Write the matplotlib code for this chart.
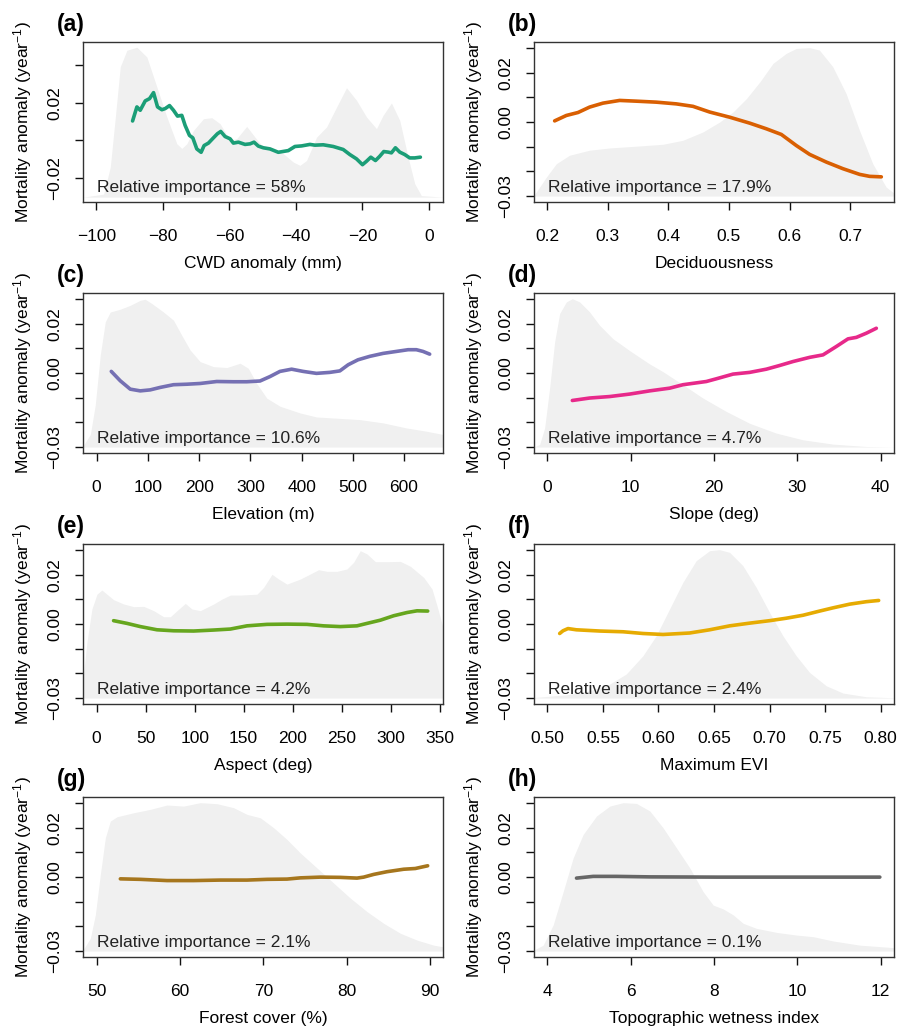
import matplotlib.pyplot as plt

plt.rcParams['font.family'] = ['Liberation Sans', 'DejaVu Sans']
plt.rcParams['mathtext.fontset'] = 'custom'
plt.rcParams['mathtext.rm'] = 'Liberation Sans'
plt.rcParams['mathtext.it'] = 'Liberation Sans:italic'
plt.rcParams['axes.unicode_minus'] = True

# ---- data ----
# (a) CWD anomaly
a_dens_x = [-104.0, -97.8, -95.8, -94.3, -92.8, -90.8, -87.8, -84.8, -81.8, -78.8, -75.8, -74.3,
            -72.8, -70.8, -67.8, -65.3, -62.8, -59.8, -57.8, -54.8, -52.3, -49.8, -46.8, -43.8,
            -40.8, -38.8, -36.8, -33.8, -30.8, -27.8, -24.8, -21.8, -18.8, -15.8, -13.8, -11.3,
            -8.8, -6.3, -4.3, -2.3, 4.2]
a_dens_y = [0, 0.02, 0.2, 0.53, 0.87, 0.98, 1.0, 0.935, 0.735, 0.535, 0.356, 0.325, 0.356, 0.445,
            0.523, 0.53, 0.49, 0.38, 0.39, 0.472, 0.40, 0.334, 0.312, 0.29, 0.234, 0.212, 0.245,
            0.40, 0.468, 0.60, 0.73, 0.646, 0.535, 0.457, 0.546, 0.628, 0.512, 0.267, 0.09, 0.01, 0]
a_x = [-89.1, -87.8, -86.8, -85.3, -84.0, -82.8, -81.6, -80.3, -79.3, -78.0, -76.8, -75.6, -74.3,
       -73.3, -72.0, -71.0, -69.8, -68.5, -67.6, -66.3, -64.8, -63.6, -62.6, -61.3, -59.8, -58.8,
       -57.3, -55.3, -53.8, -52.6, -51.3, -49.8, -47.8, -45.3, -42.3, -40.3, -38.3, -35.8, -34.3,
       -31.8, -28.8, -25.8, -23.8, -21.8, -20.0, -18.8, -17.5, -16.1, -14.8, -13.6, -12.3, -11.3,
       -10.1, -8.8, -7.3, -5.8, -4.3, -2.6]
a_y = [0.0104, 0.0179, 0.0161, 0.0211, 0.0223, 0.0255, 0.0179, 0.0164, 0.0170, 0.0186, 0.0161,
       0.0130, 0.0134, 0.0080, 0.0027, 0.0014, -0.0045, -0.0063, -0.0027, -0.0014, 0.0014, 0.0036,
       0.0048, 0.0021, 0.0009, -0.0014, -0.0009, -0.0021, -0.0018, -0.0009, -0.0030, -0.0039,
       -0.0045, -0.0063, -0.0054, -0.0032, -0.0029, -0.0021, -0.0025, -0.0023, -0.0032, -0.0048,
       -0.0075, -0.0098, -0.0129, -0.0111, -0.0089, -0.0107, -0.0084, -0.0059, -0.0062, -0.0066,
       -0.0039, -0.0062, -0.0075, -0.0093, -0.0093, -0.0089]

# (b) Deciduousness
b_dens_x = [0.1786, 0.199, 0.2154, 0.237, 0.270, 0.303, 0.347, 0.391, 0.424, 0.457, 0.485, 0.507,
            0.529, 0.551, 0.5725, 0.5945, 0.611, 0.633, 0.649, 0.671, 0.693, 0.715, 0.737, 0.759, 0.772]
b_dens_y = [0.005, 0.128, 0.218, 0.275, 0.309, 0.324, 0.336, 0.349, 0.376, 0.432, 0.5, 0.568,
            0.658, 0.770, 0.894, 0.962, 0.995, 1.0, 0.984, 0.872, 0.691, 0.444, 0.218, 0.061, 0.02]
b_x = [0.2126, 0.2319, 0.2511, 0.2703, 0.2923, 0.3198, 0.3473, 0.3802, 0.4132, 0.4407, 0.4681,
       0.5011, 0.534, 0.5615, 0.5863, 0.611, 0.633, 0.6604, 0.6879, 0.7154, 0.7319, 0.7511]
b_y = [0.0005, 0.0027, 0.0039, 0.0061, 0.0077, 0.0088, 0.0085, 0.0081, 0.0074, 0.0064, 0.0041,
       0.0020, -0.0004, -0.0027, -0.0050, -0.0095, -0.0131, -0.0162, -0.0189, -0.0212, -0.0220,
       -0.0222]

# (c) Elevation
c_dens_x = [-26.6, -12.3, -2.6, 7.1, 16.9, 26.6, 46.1, 65.6, 85.1, 94.8, 107.8, 130.5, 150, 166,
            182.5, 202, 228, 254, 280, 296, 312, 332, 358, 397, 429, 462, 514, 559, 604.5, 643.5, 676]
c_dens_y = [0.007, 0.085, 0.286, 0.62, 0.844, 0.91, 0.929, 0.955, 0.989, 0.996, 0.967, 0.91,
            0.855, 0.754, 0.654, 0.576, 0.542, 0.536, 0.565, 0.531, 0.431, 0.33, 0.275, 0.23,
            0.203, 0.196, 0.185, 0.163, 0.129, 0.107, 0.085]
c_x = [28.6, 46.1, 65.6, 85.1, 104.5, 124, 150, 176, 202, 234.4, 266.9, 292.9, 318.8, 338.3,
       357.8, 380.5, 403, 429, 455, 474.7, 491, 510, 533, 559, 585, 608, 624, 637, 650]
c_y = [0.0007, -0.0031, -0.0065, -0.0072, -0.0068, -0.0058, -0.0047, -0.0045, -0.0042, -0.0034,
       -0.0035, -0.0035, -0.0032, -0.0014, 0.0007, 0.0016, 0.0007, -0.0001, 0.0003, 0.0009,
       0.0034, 0.0054, 0.0068, 0.0080, 0.0088, 0.0095, 0.0095, 0.0088, 0.0077]

# (d) Slope
d_dens_x = [-1.6, -0.92, -0.32, 0.28, 0.88, 1.48, 2.28, 3.0, 3.88, 5.08, 6.28, 7.88, 9.88, 12.28,
            13.88, 16.28, 18.68, 21.48, 24.28, 27.48, 30.68, 34.28, 38.28, 41.6]
d_dens_y = [0, 0.018, 0.13, 0.40, 0.71, 0.90, 0.978, 1.0, 0.978, 0.91, 0.82, 0.73, 0.65, 0.56,
            0.508, 0.42, 0.33, 0.24, 0.16, 0.094, 0.049, 0.02, 0.004, 0]
d_x = [3.0, 5.08, 7.48, 9.88, 12.28, 14.68, 16.28, 19.08, 20.28, 22.28, 24.28, 26.28, 27.88,
       29.48, 31.48, 33.08, 34.68, 36.08, 37.08, 38.28, 39.48]
d_y = [-0.0111, -0.0101, -0.0095, -0.0085, -0.0072, -0.0061, -0.0047, -0.0034, -0.0023, -0.0004,
       0.0003, 0.0016, 0.0031, 0.0047, 0.0064, 0.0074, 0.0108, 0.0139, 0.0145, 0.0162, 0.0182]

# (e) Aspect
e_dens_x = [-13.9, -9.9, -4.8, 0.34, 5.4, 10.5, 17.3, 27.6, 37.8, 48.0, 58.2, 68.4, 75.2, 82.0,
            90.5, 97.3, 105.8, 119.4, 127.9, 136.4, 146.6, 163.6, 170.4, 178.9, 185.7, 194.2,
            207.8, 218.0, 226.5, 235.0, 245.2, 255.4, 262.2, 269.0, 275.9, 284.4, 296.3, 309.9,
            320.1, 333.7, 342.2, 347.3, 353.4]
e_dens_y = [0.128, 0.375, 0.60, 0.70, 0.728, 0.70, 0.663, 0.634, 0.616, 0.618, 0.589, 0.548,
            0.548, 0.589, 0.638, 0.60, 0.589, 0.634, 0.667, 0.694, 0.694, 0.70, 0.746, 0.834,
            0.802, 0.768, 0.802, 0.836, 0.865, 0.854, 0.854, 0.87, 0.915, 0.993, 0.971, 0.919,
            0.919, 0.921, 0.888, 0.813, 0.735, 0.622, 0.476]
e_x = [17.3, 31.0, 44.6, 61.6, 78.6, 99.0, 119.4, 136.4, 153.4, 173.8, 194.2, 214.6, 231.6,
       248.6, 265.6, 275.9, 289.5, 303.1, 316.7, 326.9, 337.8]
e_y = [0.0014, 0.0003, -0.0010, -0.0023, -0.0027, -0.0028, -0.0024, -0.0020, -0.0007, -0.0001,
       0.0, -0.0001, -0.0007, -0.0010, -0.0007, 0.0003, 0.0016, 0.0034, 0.0047, 0.0054, 0.0053]

# (f) Maximum EVI
f_dens_x = [0.488, 0.517, 0.538, 0.556, 0.571, 0.586, 0.598, 0.610, 0.622, 0.634, 0.646, 0.655,
            0.664, 0.676, 0.688, 0.700, 0.712, 0.724, 0.736, 0.751, 0.766, 0.787, 0.812]
f_dens_y = [0.004, 0.022, 0.049, 0.094, 0.162, 0.285, 0.42, 0.60, 0.78, 0.926, 0.993, 1.0, 0.982,
            0.892, 0.746, 0.577, 0.42, 0.285, 0.173, 0.083, 0.034, 0.009, 0.002]
f_x = [0.5111, 0.5141, 0.5186, 0.5261, 0.5471, 0.5681, 0.5861, 0.6041, 0.6281, 0.6461, 0.6641,
       0.6821, 0.7001, 0.7151, 0.7301, 0.7451, 0.7571, 0.7721, 0.7871, 0.7982]
f_y = [-0.0038, -0.0027, -0.0018, -0.0023, -0.0028, -0.0031, -0.0038, -0.0042, -0.0036, -0.0023,
       -0.0007, 0.0004, 0.0014, 0.0024, 0.0036, 0.0053, 0.0066, 0.0081, 0.0091, 0.0096]

# (g) Forest cover
g_dens_x = [48.36, 49.24, 49.84, 50.44, 51.04, 51.64, 52.44, 54.44, 56.44, 58.44, 60.44, 62.44,
            64.44, 66.44, 68.04, 69.64, 71.24, 72.84, 74.44, 76.44, 78.44, 80.44, 82.44, 84.44,
            86.44, 88.44, 90.44, 91.56]
g_dens_y = [0.007, 0.086, 0.244, 0.515, 0.763, 0.876, 0.905, 0.932, 0.955, 0.984, 0.977, 1.0,
            0.993, 0.966, 0.921, 0.898, 0.831, 0.752, 0.661, 0.56, 0.458, 0.357, 0.266, 0.187,
            0.12, 0.074, 0.04, 0.029]
g_x = [52.84, 55.24, 58.44, 61.64, 64.84, 68.04, 70.44, 72.84, 74.44, 76.84, 79.24, 81.24, 82.04,
       83.24, 84.84, 86.84, 88.24, 89.04, 89.72]
g_y = [-0.0007, -0.0009, -0.0014, -0.0014, -0.0012, -0.0012, -0.0009, -0.0008, -0.0003, 0.0,
       -0.0001, -0.0004, 0.0, 0.0011, 0.0022, 0.0032, 0.0035, 0.0041, 0.0046]

# (h) Topographic wetness index
h_dens_x = [3.68, 3.9, 4.14, 4.38, 4.62, 4.86, 5.18, 5.5, 5.82, 6.14, 6.46, 6.78, 7.1, 7.42,
            7.74, 7.98, 8.22, 8.46, 8.7, 9.02, 9.5, 9.98, 10.38, 10.86, 11.5, 12.32]
h_dens_y = [0.007, 0.04, 0.176, 0.40, 0.628, 0.786, 0.91, 0.977, 1.0, 0.995, 0.944, 0.83, 0.695,
            0.56, 0.40, 0.31, 0.284, 0.244, 0.187, 0.153, 0.126, 0.108, 0.097, 0.068, 0.04, 0.023]
h_x = [4.7, 5.1, 5.66, 6.46, 8.06, 9.66, 11.26, 11.98]
h_y = [-0.0004, 0.0003, 0.0003, 0.0001, 0.0, 0.0, 0.0, 0.0]

panel_letters = ['(a)', '(b)', '(c)', '(d)', '(e)', '(f)', '(g)', '(h)']
x_titles = ['CWD anomaly (mm)', 'Deciduousness', 'Elevation (m)', 'Slope (deg)',
            'Aspect (deg)', 'Maximum EVI', 'Forest cover (%)', 'Topographic wetness index']
importance = ['58%', '17.9%', '10.6%', '4.7%', '4.2%', '2.4%', '2.1%', '0.1%']
line_colors = ['#1B9E77', '#D95F02', '#7570B3', '#E7298A', '#66A61E', '#E6AB02', '#A6761D', '#666666']
x_ticks = [[-100, -80, -60, -40, -20, 0],
           [0.2, 0.3, 0.4, 0.5, 0.6, 0.7],
           [0, 100, 200, 300, 400, 500, 600],
           [0, 10, 20, 30, 40],
           [0, 50, 100, 150, 200, 250, 300, 350],
           [0.50, 0.55, 0.60, 0.65, 0.70, 0.75, 0.80],
           [50, 60, 70, 80, 90],
           [4, 6, 8, 10, 12]]
x_ticklabels = [['\u2212100', '\u221280', '\u221260', '\u221240', '\u221220', '0'],
                ['0.2', '0.3', '0.4', '0.5', '0.6', '0.7'],
                ['0', '100', '200', '300', '400', '500', '600'],
                ['0', '10', '20', '30', '40'],
                ['0', '50', '100', '150', '200', '250', '300', '350'],
                ['0.50', '0.55', '0.60', '0.65', '0.70', '0.75', '0.80'],
                ['50', '60', '70', '80', '90'],
                ['4', '6', '8', '10', '12']]
x_limits = [(-104.0, 4.2), (0.1786, 0.772), (-26.6, 676), (-1.6, 41.6),
            (-13.9, 353.4), (0.488, 0.812), (48.36, 91.56), (3.68, 12.32)]

dens = [(a_dens_x, a_dens_y), (b_dens_x, b_dens_y), (c_dens_x, c_dens_y), (d_dens_x, d_dens_y),
        (e_dens_x, e_dens_y), (f_dens_x, f_dens_y), (g_dens_x, g_dens_y), (h_dens_x, h_dens_y)]
lines = [(a_x, a_y), (b_x, b_y), (c_x, c_y), (d_x, d_y),
         (e_x, e_y), (f_x, f_y), (g_x, g_y), (h_x, h_y)]

W, H = 909, 1029
fig = plt.figure(figsize=(W / 100, H / 100), dpi=100)

col_left = [83, 534]
row_top = [42, 293, 544, 797]
ax_w, ax_h = 360, 160
fs = 12.5

for i in range(8):
    r, c = divmod(i, 2)
    ax = fig.add_axes([col_left[c] / W, 1 - (row_top[r] + ax_h) / H, ax_w / W, ax_h / H])

    if i == 0:
        ylim = (-0.0328, 0.0525)
        dens_lo, dens_hi = -0.0302, 0.0497
        yt = [-0.02, 0.0, 0.02, 0.04]
        ytl = ['\u22120.02', '', '0.02', '']
    else:
        ylim = (-0.0324, 0.0325)
        dens_lo, dens_hi = -0.0300, 0.0302
        yt = [-0.03, -0.02, -0.01, 0.0, 0.01, 0.02, 0.03]
        ytl = ['\u22120.03', '', '', '0.00', '', '0.02', '']

    # density shading behind the partial dependence line
    dx, dy = dens[i]
    top = [dens_lo + v * (dens_hi - dens_lo) for v in dy]
    ax.fill_between(dx, dens_lo, top, color='#F0F0F0', lw=0, zorder=1)

    lx, ly = lines[i]
    ax.plot(lx, ly, color=line_colors[i], lw=2.6, solid_capstyle='round', zorder=3)

    ax.set_xlim(*x_limits[i])
    ax.set_ylim(*ylim)
    ax.set_xticks(x_ticks[i])
    ax.set_xticklabels(x_ticklabels[i], fontsize=fs)
    ax.set_yticks(yt)
    ax.set_yticklabels(ytl, fontsize=fs, rotation=90, va='center')
    ax.tick_params(axis='x', length=5.5, width=1.0, pad=14, color='#111111')
    ax.tick_params(axis='y', length=5.5, width=1.0, pad=9.5, color='#111111')
    for s in ax.spines.values():
        s.set_linewidth(1.0)
        s.set_color('#333333')

    ax.set_xlabel(x_titles[i], fontsize=fs)
    ax.xaxis.set_label_coords(0.5, -0.335)
    ax.set_ylabel('Mortality anomaly (year$^{\u22121}$)', fontsize=fs)
    ax.yaxis.set_label_coords(-0.136, 0.5)

    ax.text(0.038, 0.064, 'Relative importance = ' + importance[i], transform=ax.transAxes,
            fontsize=fs, ha='left', va='baseline', color='#222222', zorder=4)
    ax.text(-0.072, 1.112, panel_letters[i], transform=ax.transAxes, fontsize=16.5,
            fontweight='bold', ha='left', va='center')

fig.savefig('out.png', dpi=100)
